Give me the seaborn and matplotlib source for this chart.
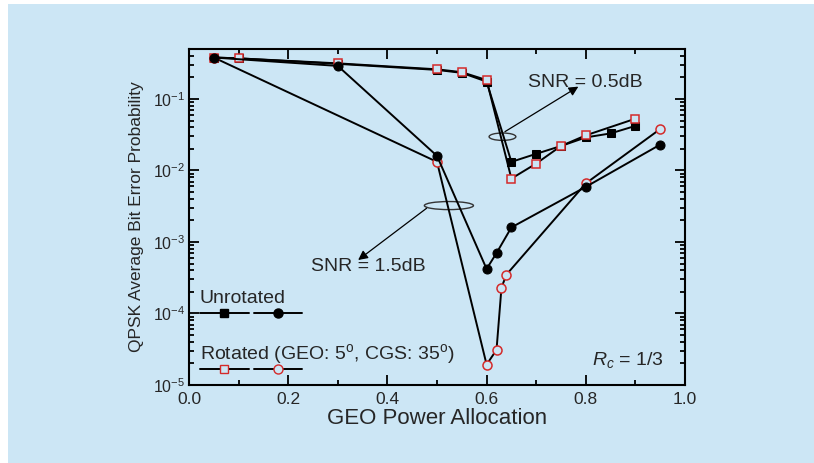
import seaborn as sns
import matplotlib.pyplot as plt
from matplotlib.patches import Ellipse, Rectangle
from matplotlib.ticker import MultipleLocator, LogLocator, NullFormatter

# SNR = 0.5 dB
x_05_unrot = [0.05, 0.1, 0.3, 0.5, 0.55, 0.6, 0.65, 0.7, 0.75, 0.8, 0.85, 0.9]
ber_05_unrot = [0.38, 0.37, 0.31, 0.255, 0.232, 0.175, 0.0132, 0.0171, 0.022, 0.029, 0.033, 0.042]
x_05_rot = [0.05, 0.1, 0.3, 0.5, 0.55, 0.6, 0.65, 0.7, 0.75, 0.8, 0.9]
ber_05_rot = [0.38, 0.37, 0.315, 0.26, 0.237, 0.184, 0.0077, 0.0125, 0.022, 0.031, 0.053]

# SNR = 1.5 dB
x_15_unrot = [0.05, 0.3, 0.5, 0.6, 0.62, 0.65, 0.8, 0.95]
ber_15_unrot = [0.38, 0.29, 0.016, 4.2e-4, 7e-4, 1.6e-3, 5.9e-3, 0.023]
x_15_rot = [0.05, 0.5, 0.6, 0.62, 0.63, 0.64, 0.8, 0.95]
ber_15_rot = [0.38, 0.0132, 1.93e-5, 3.1e-5, 2.3e-4, 3.5e-4, 6.6e-3, 0.038]

bg = '#cce6f5'
red = '#d42a2a'

sns.set_style('ticks')
plt.rcParams['font.family'] = ['Liberation Sans', 'DejaVu Sans']
plt.rcParams['mathtext.fontset'] = 'custom'
plt.rcParams['mathtext.rm'] = 'Liberation Sans'
plt.rcParams['mathtext.it'] = 'Liberation Sans:italic'

fig = plt.figure(figsize=(8.14, 4.63), dpi=100, facecolor='white')
fig.patches.append(Rectangle((8 / 814, 0), 1, 1 - 4 / 463, transform=fig.transFigure,
                             facecolor=bg, edgecolor='none', zorder=-10))
ax = fig.add_axes([189 / 814, 78 / 463, 496 / 814, 336 / 463])
ax.set_facecolor(bg)

common = dict(color='black', linewidth=1.4, estimator=None, sort=False, ax=ax)
sns.lineplot(x=x_05_unrot, y=ber_05_unrot, marker='s', markersize=5.5,
             markerfacecolor='black', markeredgecolor='black', **common)
sns.lineplot(x=x_05_rot, y=ber_05_rot, marker='s', markersize=6,
             markerfacecolor=bg, markeredgecolor=red, markeredgewidth=1.1, **common)
sns.lineplot(x=x_15_rot, y=ber_15_rot, marker='o', markersize=6.5,
             markerfacecolor=bg, markeredgecolor=red, markeredgewidth=1.1, **common)
sns.lineplot(x=x_15_unrot, y=ber_15_unrot, marker='o', markersize=6.5,
             markerfacecolor='black', markeredgecolor='black', **common)

ax.set_yscale('log')
ax.set_xlim(0, 1)
ax.set_ylim(1e-5, 0.5)
ax.xaxis.set_major_locator(MultipleLocator(0.2))
ax.xaxis.set_minor_locator(MultipleLocator(0.1))
ax.yaxis.set_major_locator(LogLocator(base=10, numticks=10))
ax.yaxis.set_minor_locator(LogLocator(base=10, subs=range(2, 10), numticks=20))
ax.yaxis.set_minor_formatter(NullFormatter())
ax.xaxis.set_major_formatter(lambda v, p: f'{v:.1f}')
ax.tick_params(which='both', direction='in', top=True, right=True, width=1.3, color='black')
ax.tick_params(which='major', length=7)
ax.tick_params(which='minor', length=3.5)
ax.tick_params(axis='x', labelsize=12.5, pad=5)
ax.tick_params(axis='y', labelsize=11.5, pad=3)
for s in ax.spines.values():
    s.set_linewidth(1.5)
    s.set_color('black')

ax.set_xlabel('GEO Power Allocation', fontsize=16, labelpad=1)
ax.set_ylabel('QPSK Average Bit Error Probability', fontsize=12.5, labelpad=6)

# annotations
ax.add_patch(Ellipse((0.632, 0.739), 0.054, 0.022, transform=ax.transAxes,
                     fill=False, edgecolor='#333333', linewidth=1))
ax.add_patch(Ellipse((0.524, 0.534), 0.099, 0.024, transform=ax.transAxes,
                     fill=False, edgecolor='#333333', linewidth=1))
arrow = dict(arrowstyle='-|>', color='black', lw=0.9, mutation_scale=14, shrinkA=0, shrinkB=0)
ax.annotate('', xy=(0.785, 0.888), xytext=(0.637, 0.754), xycoords='axes fraction', arrowprops=arrow)
ax.annotate('', xy=(0.341, 0.372), xytext=(0.479, 0.526), xycoords='axes fraction', arrowprops=arrow)
ax.text(0.80, 0.90, 'SNR = 0.5dB', transform=ax.transAxes, fontsize=14, ha='center', va='center')
ax.text(0.361, 0.354, 'SNR = 1.5dB', transform=ax.transAxes, fontsize=14, ha='center', va='center')
ax.text(0.885, 0.074, r'$R_c$ = 1/3', transform=ax.transAxes, fontsize=14, ha='center', va='center')

# legends
h_sq, = ax.plot([], [], color='black', lw=1.4, marker='s', markersize=5.5)
h_ci, = ax.plot([], [], color='black', lw=1.4, marker='o', markersize=6.5)
h_rsq, = ax.plot([], [], color='black', lw=1.4, marker='s', markersize=6,
                 markerfacecolor=bg, markeredgecolor=red)
h_rci, = ax.plot([], [], color='black', lw=1.4, marker='o', markersize=6.5,
                 markerfacecolor=bg, markeredgecolor=red)
leg_kw = dict(loc='upper left', ncol=2, frameon=False, handlelength=2.5, handletextpad=0,
              columnspacing=0.27, borderpad=0, borderaxespad=0,
              fontsize=14, title_fontsize=14, alignment='left')
leg1 = ax.legend([h_sq, h_ci], ['', ''], title='Unrotated', bbox_to_anchor=(0.022, 0.283),
                 labelspacing=-0.06, **leg_kw)
ax.add_artist(leg1)
ax.legend([h_rsq, h_rci], ['', ''], title=r'Rotated (GEO: 5$^\mathrm{o}$, CGS: 35$^\mathrm{o}$)',
          bbox_to_anchor=(0.022, 0.128), labelspacing=-0.21, **leg_kw)

plt.savefig('out.png', dpi=100, facecolor=fig.get_facecolor())
